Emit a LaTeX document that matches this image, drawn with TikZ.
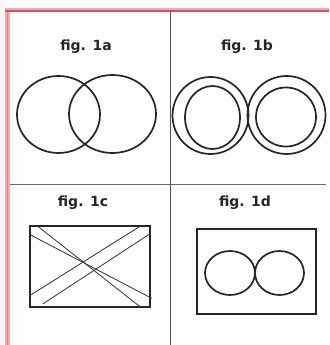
\documentclass[tikz,border=0pt]{standalone}
\usepackage{fontspec}
\setmainfont{DejaVu Sans}
\begin{document}
\begin{tikzpicture}[x=1pt,y=-1pt,
  lbl/.style={font=\bfseries\fontsize{14}{15}\selectfont, text=black!85, inner sep=0pt},
  shp/.style={draw=black!85, line width=1.7pt},
  frm/.style={draw=black!85, line width=2pt},
  diag/.style={draw=black!80, line width=0.8pt}]
\definecolor{redline}{HTML}{D9505C}
\definecolor{pinkband}{HTML}{F4AAB0}
\definecolor{divgray}{HTML}{505050}
\definecolor{divpurple}{HTML}{6E6284}
\definecolor{paper}{HTML}{FDFDFB}
\useasboundingbox (0,0) rectangle (329,345);
\fill[paper] (0,0) rectangle (329,345);
\fill[red!3] (0,0) rectangle (5,345);
% red frame
\fill[pinkband] (5,9) rectangle (9.5,345);
\draw[redline!70, line width=1pt] (7,11) -- (7,345);
\draw[pinkband, line width=2pt] (5,9.5) -- (329,9.5);
\draw[redline, line width=1.3pt] (5,11) -- (329,11);
% dividers
\draw[divgray, line width=0.9pt] (170,11.5) -- (170,345);
\draw[divpurple, line width=0.9pt] (9.5,184) -- (326,184);
% labels
\node[lbl] (la) at (86,47) {fig. 1a};
\node[lbl] (lb) at (247,47) {fig. 1b};
\node[lbl] (lc) at (83,203) {fig. 1c};
\node[lbl] (ld) at (245,203) {fig. 1d};
% fig 1a
\draw[shp] (58.5,114.5) ellipse [x radius=41.5, y radius=38.5];
\draw[shp] (112.5,114) ellipse [x radius=43.5, y radius=39];
% fig 1b
\draw[shp] (210.5,115.5) ellipse [x radius=38, y radius=38.5];
\draw[shp] (286.5,115) ellipse [x radius=39, y radius=39];
\draw[shp] (212.5,117.5) ellipse [x radius=27.5, y radius=31.5];
\draw[shp] (286,117) ellipse [x radius=30, y radius=29.5];
% fig 1c
\draw[frm] (30,226) rectangle (150,307);
\draw[diag] (30.7,235) -- (151.7,298.3);
\draw[diag] (38.3,226.7) -- (140,306.7);
\draw[diag] (30.7,295) -- (139.3,226.7);
\draw[diag] (42.7,304) -- (150.7,233.3);
% fig 1d
\draw[frm] (196.7,228.7) rectangle (316,314);
\draw[shp] (230,273) ellipse [x radius=25, y radius=22];
\draw[shp] (279.5,273) ellipse [x radius=24.5, y radius=22];
\end{tikzpicture}
\end{document}
